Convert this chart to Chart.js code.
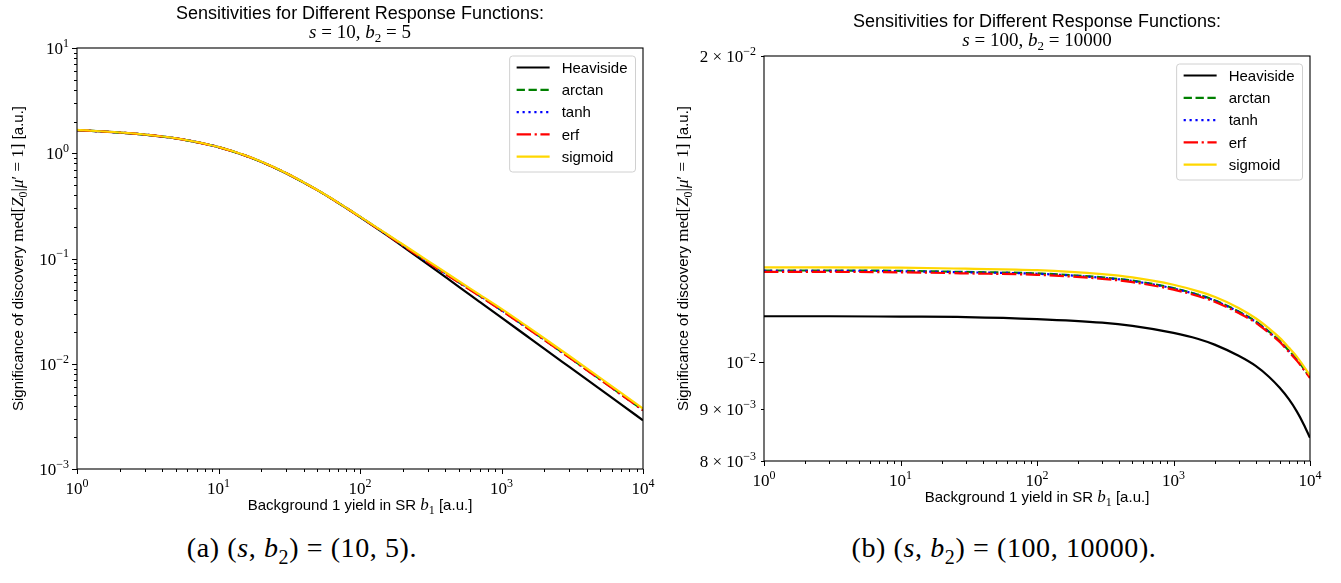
<!DOCTYPE html>
<html>
<head>
<meta charset="utf-8">
<script src="https://cdn.jsdelivr.net/npm/chart.js@4.4.0/dist/chart.umd.min.js"></script>
<style>
  body { margin: 0; background: #fff; width: 1341px; height: 583px; position: relative; overflow: hidden; }
  canvas { position: absolute; top: 0; }
  #chartA { left: 0; }
  #chartB { left: 668px; }
  .caption { position: absolute; top: 533px; line-height: 30px; font-family: "Liberation Serif", serif; font-size: 28px; letter-spacing: 0.6px; white-space: nowrap; transform: translateX(-50%); }
  .caption sub { font-size: 20px; line-height: 0; }
</style>
</head>
<body>
<canvas id="chartA" width="668" height="520"></canvas>
<canvas id="chartB" width="673" height="520"></canvas>
<div class="caption" style="left:302px">(a) (<i>s</i>, <i>b</i><sub>2</sub>) = (10, 5).</div>
<div class="caption" style="left:1004px">(b) (<i>s</i>, <i>b</i><sub>2</sub>) = (100, 10000).</div>
<script>
const seriesNames = ['Heaviside', 'arctan', 'tanh', 'erf', 'sigmoid'];

// (a) s = 10, b2 = 5
const yieldsA = [1, 2, 3, 5, 7, 10, 15, 20, 30, 50, 70, 100, 150, 200, 300, 500, 700, 1000, 1500, 2000, 3000, 5000, 7000, 10000];
const heavisideA = [1.660, 1.570, 1.503, 1.384, 1.276, 1.143, 0.964, 0.832, 0.647, 0.446, 0.338, 0.2477, 0.1714, 0.1306, 0.0885, 0.0538, 0.0388, 0.02742, 0.01845, 0.01393, 0.00938, 0.00570, 0.00411, 0.00290];
const arctanA = [1.662, 1.572, 1.505, 1.385, 1.277, 1.144, 0.965, 0.832, 0.648, 0.446, 0.339, 0.2490, 0.1739, 0.1345, 0.0932, 0.0593, 0.0443, 0.0322, 0.02219, 0.01696, 0.01155, 0.00708, 0.00512, 0.00363];
const tanhA = [1.662, 1.572, 1.505, 1.385, 1.277, 1.144, 0.965, 0.832, 0.648, 0.446, 0.339, 0.2491, 0.1741, 0.1347, 0.0935, 0.0595, 0.0445, 0.0323, 0.02225, 0.01701, 0.01158, 0.00710, 0.00514, 0.00364];
const erfA = [1.662, 1.572, 1.505, 1.385, 1.277, 1.144, 0.965, 0.832, 0.648, 0.446, 0.339, 0.2486, 0.1730, 0.1335, 0.0925, 0.0589, 0.0440, 0.0320, 0.02205, 0.01686, 0.01148, 0.00704, 0.00509, 0.00361];
const sigmoidA = [1.665, 1.575, 1.508, 1.388, 1.280, 1.146, 0.967, 0.834, 0.649, 0.447, 0.340, 0.2502, 0.1757, 0.1365, 0.0956, 0.0608, 0.0454, 0.0332, 0.02288, 0.01748, 0.01191, 0.00730, 0.00528, 0.00374];

// (b) s = 100, b2 = 10000
const yieldsB = [1, 3, 10, 30, 100, 300, 500, 1000, 1500, 2000, 3000, 4000, 5000, 6000, 7000, 8000, 9000, 10000];
const heavisideB = [0.01110, 0.01110, 0.01109, 0.01108, 0.01103, 0.01094, 0.01086, 0.01069, 0.01055, 0.01041, 0.01015, 0.00992, 0.00968, 0.00944, 0.00920, 0.00895, 0.00869, 0.00843];
const arctanB = [0.01231, 0.01231, 0.01230, 0.01227, 0.01223, 0.01212, 0.01203, 0.01183, 0.01166, 0.01151, 0.01122, 0.01097, 0.01072, 0.01050, 0.01027, 0.01007, 0.00986, 0.00967];
const tanhB = [0.01230, 0.01230, 0.01229, 0.01226, 0.01222, 0.01211, 0.01202, 0.01182, 0.01165, 0.01150, 0.01121, 0.01096, 0.01071, 0.01049, 0.01026, 0.01006, 0.00985, 0.00966];
const erfB = [0.01227, 0.01227, 0.01226, 0.01223, 0.01219, 0.01208, 0.01199, 0.01179, 0.01162, 0.01147, 0.01118, 0.01094, 0.01069, 0.01047, 0.01024, 0.01004, 0.00984, 0.00965];
const sigmoidB = [0.01240, 0.01240, 0.01239, 0.01236, 0.01232, 0.01221, 0.01212, 0.01192, 0.01175, 0.01160, 0.01131, 0.01105, 0.01080, 0.01057, 0.01034, 0.01013, 0.00991, 0.00971];

// tick labels
const xTicks = [1, 10, 100, 1000, 10000];
const yTicksA = [0.001, 0.01, 0.1, 1, 10];
const yTicksB = [0.008, 0.009, 0.01, 0.02];

const SANS = '"Liberation Sans", Arial, sans-serif';
const SERIF = '"Liberation Serif", "DejaVu Serif", serif';

const lineStyles = [
  { color: '#000000', dash: [] },
  { color: '#008000', dash: [8.3, 3.6] },
  { color: '#0000ff', dash: [2.2, 3.7] },
  { color: '#ff0000', dash: [14.4, 3.6, 2.2, 3.6] },
  { color: '#ffd700', dash: [] }
];

function part(text, family, size, style, dy) {
  return { text: text, font: style + ' ' + size + 'px ' + family, size: size, dy: dy || 0 };
}
const sans = (t, s) => part(t, SANS, s, 'normal');
const rm = (t, s) => part(t, SERIF, s, 'normal');
const it = (t, s) => part(t, SERIF, s, 'italic');
const sup = (t, s) => part(t, SERIF, Math.round(s * 0.7), 'normal', -s * 0.42);
const sub = (t, s) => part(t, SERIF, Math.round(s * 0.7), 'normal', s * 0.22);

// draws mixed-font text centred vertically on y
function drawRich(ctx, parts, x, y, align, angle) {
  ctx.save();
  ctx.translate(x, y);
  if (angle) ctx.rotate(angle);
  ctx.textBaseline = 'alphabetic';
  ctx.textAlign = 'left';
  ctx.fillStyle = '#000';
  let total = 0;
  parts.forEach(p => { ctx.font = p.font; p.w = ctx.measureText(p.text).width; total += p.w; });
  let cx = align === 'center' ? -total / 2 : (align === 'right' ? -total : 0);
  const base = parts[0].size * 0.36;
  parts.forEach(p => { ctx.font = p.font; ctx.fillText(p.text, cx, base + p.dy); cx += p.w; });
  ctx.restore();
}

function powLabel(v, size) {
  const e = Math.floor(Math.log10(v) + 1e-9);
  const m = Math.round(v / Math.pow(10, e));
  const exp = (e < 0 ? '\u2212' : '') + Math.abs(e);
  return [rm((m === 1 ? '' : m + ' \u00d7 ') + '10', size), sup(exp, size)];
}

function logTicks(min, max) {
  const out = [];
  for (let e = Math.floor(Math.log10(min)); e <= Math.ceil(Math.log10(max)); e++) {
    for (let k = 1; k <= 9; k++) {
      const v = Number((k * Math.pow(10, e)).toPrecision(6));
      if (v >= min * 0.9999 && v <= max * 1.0001) out.push(v);
    }
  }
  return out;
}
const isDecade = v => Math.abs(Math.log10(v) - Math.round(Math.log10(v))) < 1e-9;

const xLabel = [sans('Background 1 yield in SR ', 15), it('b', 17), sub('1', 17), sans(' [a.u.]', 15)];
const yLabel = [sans('Significance of discovery ', 15), rm('med[', 17), it('Z', 17), sub('0', 17), rm('|', 17), it('\u03bc', 17), rm('\u2032 = 1]', 17), sans(' [a.u.]', 15)];

function panelPlugin(cfg) {
  return {
    id: 'panel',
    afterDatasetsDraw(chart) {
      const ctx = chart.ctx, a = chart.chartArea;
      const xs = chart.scales.x, ys = chart.scales.y;
      ctx.save();
      ctx.strokeStyle = '#000';
      ctx.lineWidth = 1.1;
      ctx.setLineDash([]);
      ctx.strokeRect(a.left, a.top, a.right - a.left, a.bottom - a.top);

      // ticks, pointing outwards
      ctx.lineWidth = 1;
      logTicks(xs.min, xs.max).forEach(v => {
        const px = Math.round(xs.getPixelForValue(v)) + 0.5;
        ctx.beginPath();
        ctx.moveTo(px, a.bottom);
        ctx.lineTo(px, a.bottom + (isDecade(v) ? 5 : 3));
        ctx.stroke();
      });
      logTicks(ys.min, ys.max).forEach(v => {
        const py = Math.round(ys.getPixelForValue(v)) + 0.5;
        ctx.beginPath();
        ctx.moveTo(a.left, py);
        ctx.lineTo(a.left - (isDecade(v) ? 5 : 3), py);
        ctx.stroke();
      });
      xTicks.forEach(v => drawRich(ctx, powLabel(v, 17), xs.getPixelForValue(v), a.bottom + 19, 'center'));
      cfg.yTicks.forEach(v => drawRich(ctx, powLabel(v, 17), a.left - 8, ys.getPixelForValue(v), 'right'));

      const cx = (a.left + a.right) / 2, cy = (a.top + a.bottom) / 2;
      drawRich(ctx, xLabel, cx, a.bottom + 35.5, 'center');
      drawRich(ctx, yLabel, cfg.yLabelX, cy, 'center', -Math.PI / 2);
      drawRich(ctx, [sans('Sensitivities for Different Response Functions:', 18)], cx, a.top - 35.5, 'center');
      drawRich(ctx, cfg.subtitle, cx, a.top - 17, 'center');

      // legend
      ctx.font = '15px ' + SANS;
      const sets = chart.data.datasets;
      const tw = Math.max(...sets.map(d => ctx.measureText(d.label).width));
      const w = 7 + 33 + 12 + tw + 8, h = 116, rowH = 22.3;
      const lx = a.right - 7.5 - w, ly = a.top + 8;
      ctx.beginPath();
      ctx.roundRect(lx, ly, w, h, 3);
      ctx.fillStyle = 'rgba(255,255,255,0.8)';
      ctx.fill();
      ctx.strokeStyle = '#d0d0d0';
      ctx.lineWidth = 1;
      ctx.stroke();
      sets.forEach((d, i) => {
        const ry = ly + 11.5 + i * rowH;
        ctx.beginPath();
        ctx.strokeStyle = d.borderColor;
        ctx.lineWidth = d.borderWidth;
        ctx.setLineDash(d.borderDash);
        ctx.moveTo(lx + 7, ry);
        ctx.lineTo(lx + 40, ry);
        ctx.stroke();
        ctx.setLineDash([]);
        ctx.fillStyle = '#000';
        ctx.textBaseline = 'middle';
        ctx.font = '15px ' + SANS;
        ctx.fillText(d.label, lx + 52, ry + 1);
      });
      ctx.restore();
    }
  };
}

function makeChart(id, yields, series, yRange, cfg, pad) {
  const datasets = series.map((vals, i) => ({
    label: seriesNames[i],
    data: yields.map((b, j) => ({ x: b, y: vals[j] })),
    borderColor: lineStyles[i].color,
    borderDash: lineStyles[i].dash,
    borderWidth: 2.2,
    pointRadius: 0,
    fill: false,
    cubicInterpolationMode: 'monotone',
    order: series.length - 1 - i
  }));
  return new Chart(document.getElementById(id), {
    type: 'line',
    data: { datasets: datasets },
    options: {
      responsive: false,
      animation: false,
      devicePixelRatio: 1,
      layout: { padding: pad },
      plugins: { legend: { display: false }, tooltip: { enabled: false } },
      scales: {
        x: { type: 'logarithmic', min: 1, max: 10000, display: false },
        y: { type: 'logarithmic', min: yRange[0], max: yRange[1], display: false }
      }
    },
    plugins: [panelPlugin(cfg)]
  });
}

makeChart('chartA', yieldsA, [heavisideA, arctanA, tanhA, erfA, sigmoidA], [0.001, 10],
  { yTicks: yTicksA, yLabelX: 18, subtitle: [it('s', 19), rm(' = 10, ', 19), it('b', 19), sub('2', 19), rm(' = 5', 19)] },
  { left: 77, right: 25, top: 48, bottom: 51 });

makeChart('chartB', yieldsB, [heavisideB, arctanB, tanhB, erfB, sigmoidB], [0.008, 0.02],
  { yTicks: yTicksB, yLabelX: 15, subtitle: [it('s', 19), rm(' = 100, ', 19), it('b', 19), sub('2', 19), rm(' = 10000', 19)] },
  { left: 96, right: 31, top: 56, bottom: 59 });
</script>
</body>
</html>
